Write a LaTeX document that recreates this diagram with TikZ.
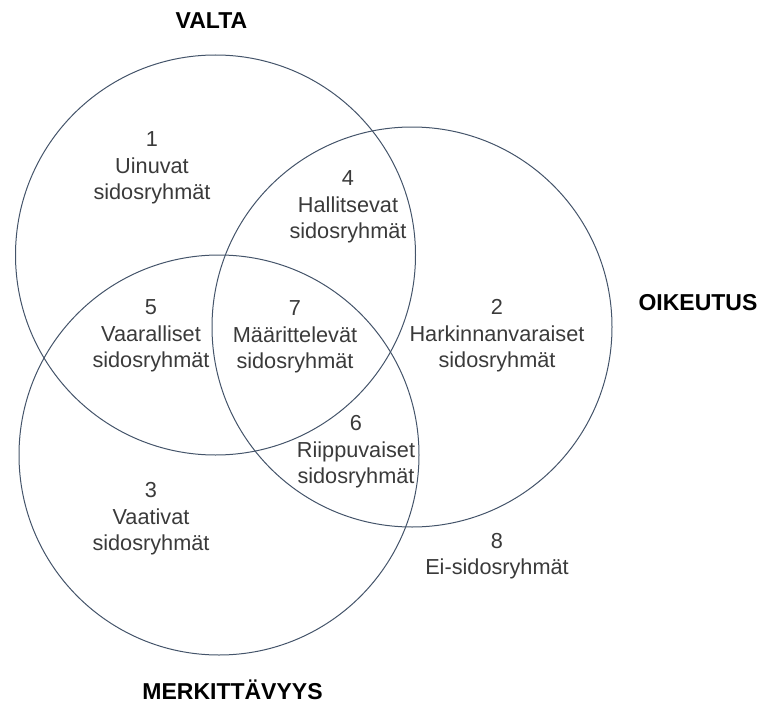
\documentclass[tikz,border=0pt]{standalone}
\usepackage{fontspec}
\setmainfont{Liberation Sans}
\definecolor{ring}{HTML}{44546A}
\definecolor{lbl}{HTML}{3A3A3A}
\begin{document}
\begin{tikzpicture}[x=1pt,y=-1pt,
  set/.style={circle, draw=ring, line width=1pt, minimum size=400pt, inner sep=0pt},
  region/.style={align=center, inner sep=0pt, text=lbl, font=\fontsize{21.7}{26.5}\selectfont},
  title/.style={inner sep=0pt, text=black, font=\fontsize{23}{27}\selectfont\bfseries}]
\useasboundingbox (0,0) rectangle (760,709);
\node[set] (valta) at (215.5,255) {};
\node[set] (oikeutus) at (412,327) {};
\node[set] (merkitt) at (219,455) {};
\node[title] (tvalta) at (211.5,21) {VALTA};
\node[title] (toik) at (698,302.5) {OIKEUTUS};
\node[title] (tmerk) at (232.5,690) {MERKITTÄVYYS};
\node[region] (r1) at (152,168) {1\\Uinuvat\\sidosryhmät};
\node[region] (r4) at (348,207) {4\\Hallitsevat\\sidosryhmät};
\node[region] (r5) at (151,336) {5\\Vaaralliset\\sidosryhmät};
\node[region] (r7) at (295,337) {7\\Määrittelevät\\sidosryhmät};
\node[region] (r2) at (497,336) {2\\Harkinnanvaraiset\\sidosryhmät};
\node[region] (r6) at (356,452) {6\\Riippuvaiset\\sidosryhmät};
\node[region] (r3) at (151,519) {3\\Vaativat\\sidosryhmät};
\node[region] (r8) at (497,556) {8\\Ei-sidosryhmät};
\end{tikzpicture}
\end{document}
